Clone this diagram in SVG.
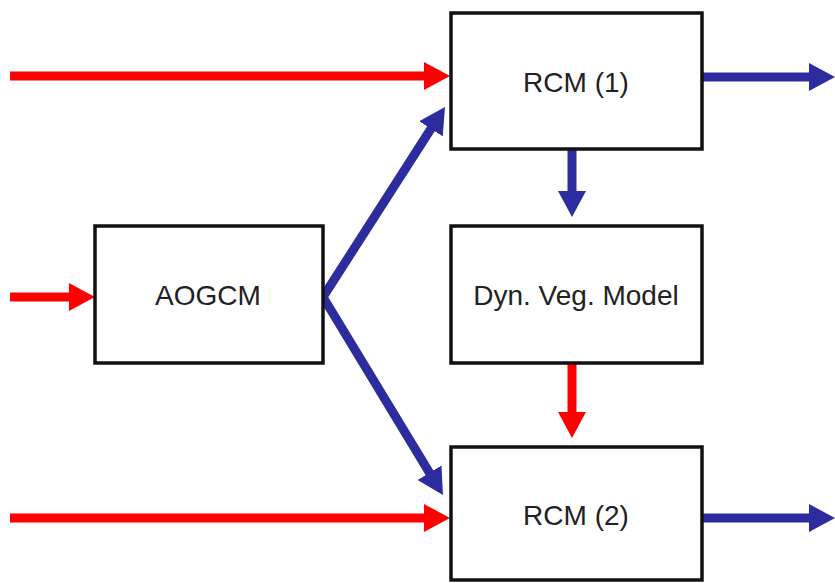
<svg xmlns="http://www.w3.org/2000/svg" width="835" height="583" viewBox="0 0 835 583">
<style>
.box{fill:#ffffff;stroke:#111111;stroke-width:3.5}
.lbl{font-family:"Liberation Sans",Arial,sans-serif;font-size:28px;fill:#222222;text-anchor:middle}
.red{stroke:#ff0000;stroke-width:9;fill:none}
.blue{stroke:#2c2c9e;stroke-width:9;fill:none}
</style>
<defs>
<marker id="hr" markerUnits="userSpaceOnUse" markerWidth="26" markerHeight="28" refX="6" refY="14" orient="auto">
<path d="M0,0 L26,14 L0,28 z" fill="#ff0000"/>
</marker>
<marker id="hb" markerUnits="userSpaceOnUse" markerWidth="26" markerHeight="28" refX="6" refY="14" orient="auto">
<path d="M0,0 L26,14 L0,28 z" fill="#2c2c9e"/>
</marker>
</defs>
<rect width="835" height="583" fill="#ffffff"/>
<g id="connectors">
<line class="red" x1="10" y1="76" x2="430" y2="76" marker-end="url(#hr)"/>
<line class="blue" x1="702" y1="77" x2="815" y2="77" marker-end="url(#hb)"/>
<line class="red" x1="10" y1="297" x2="75" y2="297" marker-end="url(#hr)"/>
<line class="blue" x1="323" y1="297" x2="434.2" y2="123.8" marker-end="url(#hb)"/>
<line class="blue" x1="323" y1="297" x2="432.6" y2="477.9" marker-end="url(#hb)"/>
<line class="blue" x1="572" y1="149" x2="572" y2="197" marker-end="url(#hb)"/>
<line class="red" x1="572" y1="363" x2="572" y2="418" marker-end="url(#hr)"/>
<line class="red" x1="10" y1="518" x2="430" y2="518" marker-end="url(#hr)"/>
<line class="blue" x1="702" y1="518" x2="815" y2="518" marker-end="url(#hb)"/>
</g>
<g id="rcm1">
<rect class="box" x="451" y="13" width="251" height="136"/>
<text class="lbl" x="576" y="92">RCM (1)</text>
</g>
<g id="aogcm">
<rect class="box" x="95" y="226" width="228" height="137"/>
<text class="lbl" x="208" y="305">AOGCM</text>
</g>
<g id="dynveg">
<rect class="box" x="451" y="226" width="251" height="137"/>
<text class="lbl" x="576" y="305">Dyn. Veg. Model</text>
</g>
<g id="rcm2">
<rect class="box" x="451" y="447" width="251" height="133"/>
<text class="lbl" x="576" y="525">RCM (2)</text>
</g>
</svg>
